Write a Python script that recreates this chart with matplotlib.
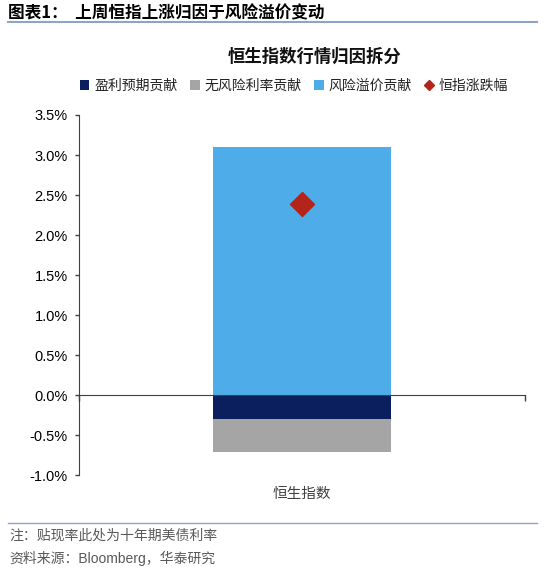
import matplotlib
matplotlib.use("Agg")

import numpy as np
import matplotlib.pyplot as plt
from matplotlib.lines import Line2D
from matplotlib.patches import Patch

plt.rcParams['font.family'] = ['Noto Sans CJK SC', 'DejaVu Sans']

# 数据（单位：%）
categories = ['恒生指数']
earnings = [-0.30]       # 盈利预期贡献
riskfree = [-0.41]       # 无风险利率贡献
premium = [3.10]         # 风险溢价贡献
index_chg = [2.39]       # 恒指涨跌幅

series_names = ['盈利预期贡献', '无风险利率贡献', '风险溢价贡献', '恒指涨跌幅']
y_ticks = [-1.0, -0.5, 0.0, 0.5, 1.0, 1.5, 2.0, 2.5, 3.0, 3.5]

c_navy = '#0B1F5E'
c_gray = '#A5A5A5'
c_blue = '#4EADE8'
c_red = '#B3241B'
axis_col = '#404040'

fig = plt.figure(figsize=(5.5, 5.71), dpi=100)
ax = fig.add_axes([0.1436, 0.1681, 0.811, 0.6305])

x = np.arange(len(categories))
w = 0.4
ax.bar(x, premium, w, color=c_blue, zorder=2)
ax.bar(x, earnings, w, color=c_navy, zorder=2)
ax.bar(x, riskfree, w, bottom=earnings, color=c_gray, zorder=2)
ax.scatter(x, index_chg, marker='D', s=150, color=c_red, zorder=4)

ax.set_xlim(-0.5, 0.5)
ax.set_ylim(min(y_ticks), max(y_ticks))
ax.set_yticks(y_ticks)
ax.set_yticklabels([f'{v:.1f}%' for v in y_ticks],
                   fontfamily='Liberation Sans', fontsize=10.5, color='black')
ax.tick_params(axis='y', length=3, width=1, color=axis_col, pad=5)

# 零轴作为横轴
for s in ['top', 'right']:
    ax.spines[s].set_visible(False)
ax.spines['bottom'].set_position(('data', 0))
ax.spines['bottom'].set_color(axis_col)
ax.spines['left'].set_color(axis_col)
ax.spines['bottom'].set_zorder(3)
ax.set_xticks([-0.5, 0.5])
ax.set_xticklabels(['', ''])
ax.tick_params(axis='x', length=4, width=1, color=axis_col, direction='out')

for xi, name in zip(x, categories):
    ax.text(xi, -0.054, name, transform=ax.get_xaxis_transform(),
            ha='center', va='center', fontsize=10.5, color='#404040')

# 图表标题
fig.text(315 / 550, 1 - 57 / 571, '恒生指数行情归因拆分', ha='center', va='center',
         fontsize=12.5, fontweight='bold', color='#111111')

handles = [
    Patch(facecolor=c_navy), Patch(facecolor=c_gray), Patch(facecolor=c_blue),
    Line2D([], [], marker='D', color=c_red, linestyle='none', markersize=5),
]
fig.legend(handles, series_names, loc='center', bbox_to_anchor=(294 / 550, 1 - 86 / 571),
           ncol=4, frameon=False, fontsize=10, handlelength=0.7, handleheight=0.7,
           handletextpad=0.35, columnspacing=0.9, labelcolor='#222222')

# 报告页眉页脚
fig.text(8 / 550, 1 - 13 / 571, '图表1：  上周恒指上涨归因于风险溢价变动',
         ha='left', va='center', fontsize=12, fontweight='bold', color='black')
fig.add_artist(Line2D([8 / 550, 537 / 550], [1 - 22 / 571, 1 - 22 / 571],
                      color='#8FA3C4', linewidth=1.5))
fig.add_artist(Line2D([8 / 550, 537 / 550], [1 - 523 / 571, 1 - 523 / 571],
                      color='#8FA3C4', linewidth=1.0))
fig.text(9 / 550, 1 - 536 / 571, '注：贴现率此处为十年期美债利率',
         ha='left', va='center', fontsize=10, color='#595959')
fig.text(9 / 550, 1 - 558 / 571, '资料来源：Bloomberg，华泰研究',
         ha='left', va='center', fontsize=10, color='#595959',
         family=['Liberation Sans', 'Noto Sans CJK SC'])

fig.savefig('out.png', dpi=100)
